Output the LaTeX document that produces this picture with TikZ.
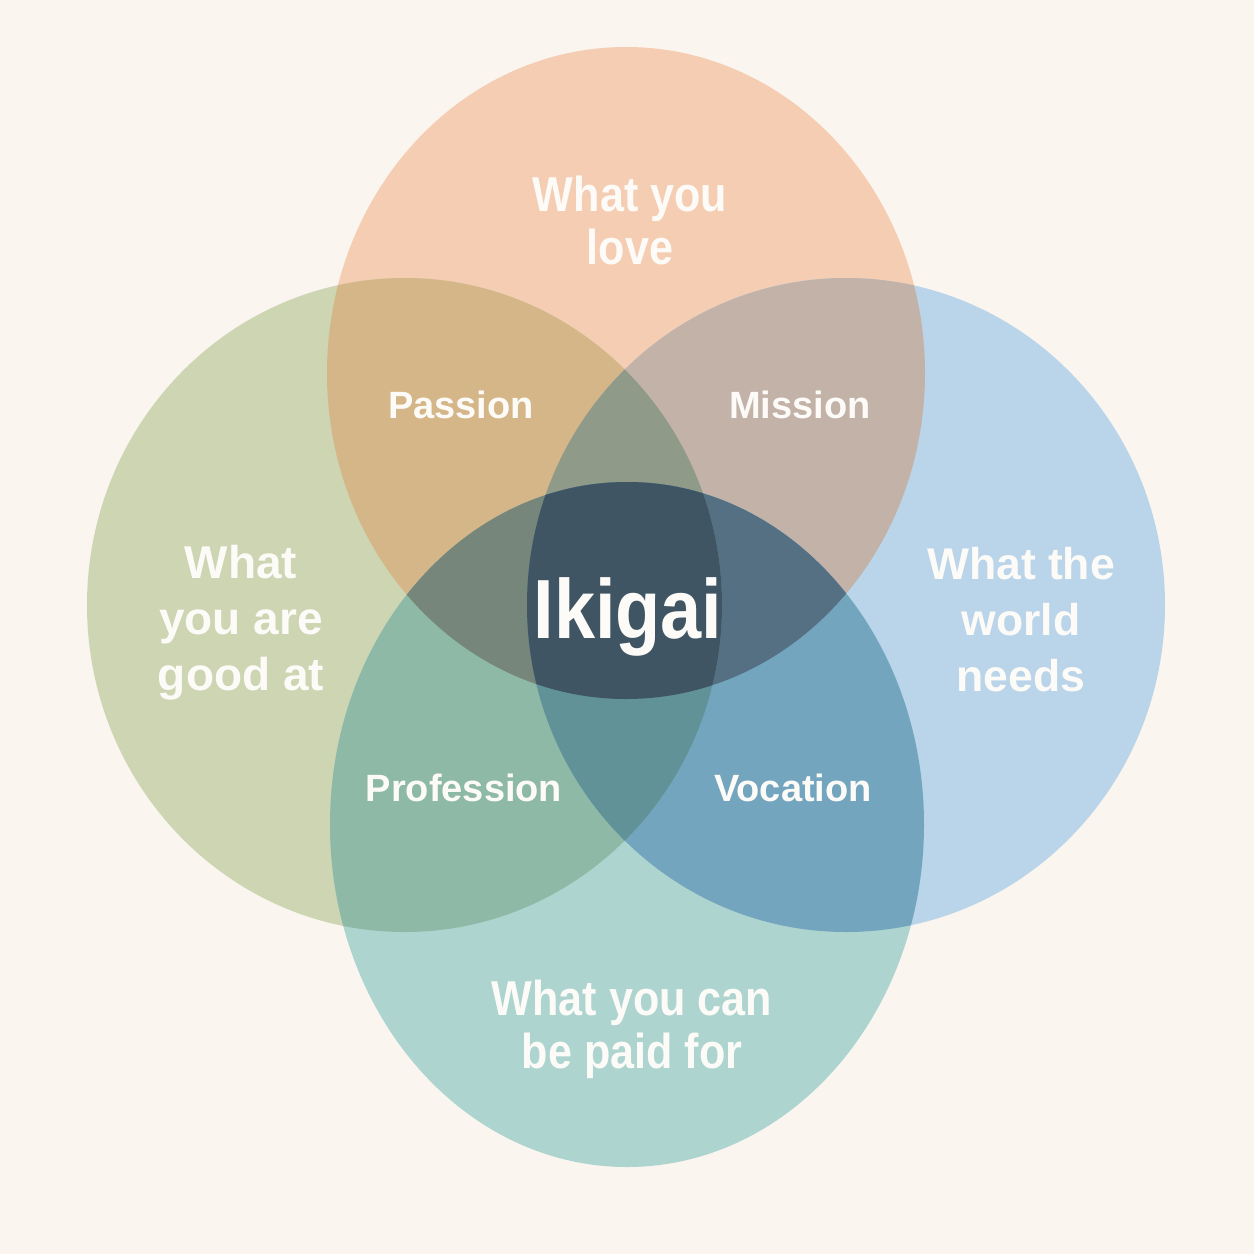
\documentclass[tikz,border=0pt]{standalone}
\usepackage{fontspec}
\setmainfont{Liberation Sans}
\newfontfamily\condfont[FakeStretch=0.88]{Liberation Sans}
\definecolor{bg}{HTML}{FAF5EF}
\definecolor{cT}{HTML}{F5CDB2}
\definecolor{cL}{HTML}{CDD5B3}
\definecolor{cR}{HTML}{BAD4E9}
\definecolor{cB}{HTML}{ADD4CF}
\definecolor{cTL}{HTML}{D5B689}
\definecolor{cTR}{HTML}{C3B2A8}
\definecolor{cLB}{HTML}{8EB9A7}
\definecolor{cRB}{HTML}{73A5BF}
\definecolor{cTLR}{HTML}{8F9B88}
\definecolor{cTLB}{HTML}{76867A}
\definecolor{cTRB}{HTML}{557082}
\definecolor{cLRB}{HTML}{609298}
\definecolor{cAll}{HTML}{3F5563}
\definecolor{txt}{HTML}{FDFBF8}
\def\pT{(626,373) ellipse [x radius=299, y radius=326]}
\def\pL{(404.5,605) ellipse [x radius=317.5, y radius=327]}
\def\pR{(846,605) ellipse [x radius=319, y radius=327]}
\def\pB{(627,824.5) ellipse [x radius=297, y radius=342.5]}
\tikzset{
  big/.style={text=txt, align=center, font=\bfseries\fontsize{46}{56}\selectfont},
  bigc/.style={text=txt, align=center, font=\condfont\bfseries\fontsize{49}{53}\selectfont},
  mid/.style={text=txt, font=\bfseries\fontsize{38}{44}\selectfont},
}
\begin{document}
\begin{tikzpicture}[x=1pt,y=-1pt]
\useasboundingbox (0,0) rectangle (1254,1254);
\fill[bg] (0,0) rectangle (1254,1254);
% single
\fill[cT] \pT; \fill[cL] \pL; \fill[cR] \pR; \fill[cB] \pB;
% pairs
\begin{scope}\clip \pT; \fill[cTL] \pL; \fill[cTR] \pR; \end{scope}
\begin{scope}\clip \pB; \fill[cLB] \pL; \fill[cRB] \pR; \end{scope}
% triples
\begin{scope}\clip \pT; \clip \pL; \fill[cTLR] \pR; \fill[cTLB] \pB; \end{scope}
\begin{scope}\clip \pT; \clip \pR; \fill[cTRB] \pB; \end{scope}
\begin{scope}\clip \pB; \clip \pL; \fill[cLRB] \pR; \end{scope}
% all four
\begin{scope}\clip \pT; \clip \pL; \clip \pR; \fill[cAll] \pB; \end{scope}
% labels
\node[bigc] (t) at (630,220) {What you\\love};
\node[big] (l) at (241,623) {What\\you are\\good at};
\node[big, font=\bfseries\fontsize{44.5}{56}\selectfont] (r) at (1021,620) {What the\\world\\needs};
\node[bigc] (b) at (632,1029) {What you can\\be paid for};
\node[mid] (passion) at (461,405) {Passion};
\node[mid] (mission) at (800,405) {Mission};
\node[mid] (prof) at (464,788) {Profession};
\node[mid] (voc) at (793,788) {Vocation};
\node[text=txt, font=\condfont\bfseries\fontsize{84}{90}\selectfont] (ikigai) at (628,617) {Ikigai};
\end{tikzpicture}
\end{document}
